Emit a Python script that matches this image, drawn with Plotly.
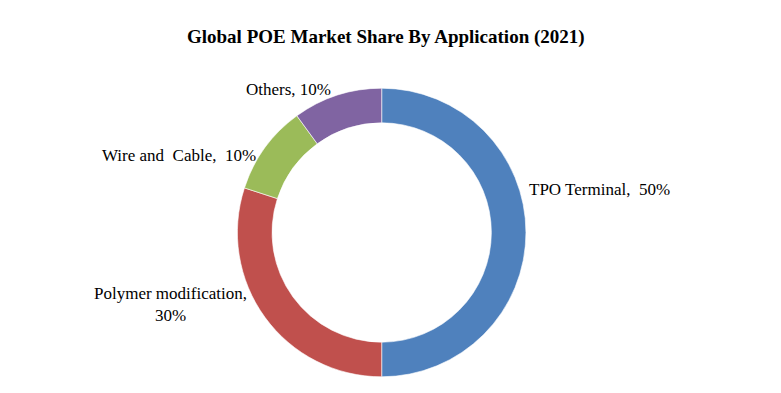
import plotly.graph_objects as go

# page has an 8px body margin; figure fills the rest of the window
OFF = 8
W, H = 781 - OFF, 393 - OFF

# Data
categories = ["TPO Terminal", "Polymer modification", "Wire and Cable", "Others"]
shares = [50, 30, 10, 10]
label_texts = ["TPO Terminal,  50%", "Polymer modification,<br>30%",
               "Wire and  Cable,  10%", "Others, 10%"]
colors = ["#4F81BD", "#C0504D", "#9BBB59", "#8064A2"]
title = "Global POE Market Share By Application (2021)"

# label centres in page pixels (x, y from top)
label_px = [(599, 190), (170, 304), (179, 155), (288, 90)]

# Pie geometry in page pixels
cx, cy, r = 381.7 - OFF, 232.5 - OFF, 144.3

def px2paper(px, py):
    return (px - OFF) / W, 1 - (py - OFF) / H

fig = go.Figure(go.Pie(
    labels=categories,
    values=shares,
    hole=0.76,
    sort=False,
    direction="clockwise",
    rotation=0,
    marker=dict(colors=colors, line=dict(color="#FFFFFF", width=0.6)),
    textinfo="none",
    hoverinfo="label+percent",
    showlegend=False,
    domain=dict(x=[(cx - r) / W, (cx + r) / W],
                y=[(H - cy - r) / H, (H - cy + r) / H]),
))

annotations = []
for txt, (px, py) in zip(label_texts, label_px):
    ax, ay = px2paper(px, py)
    annotations.append(dict(
        x=ax, y=ay, xref="paper", yref="paper",
        text=txt, showarrow=False, xanchor="center", yanchor="middle",
        align="center",
        font=dict(family="Liberation Serif, Times New Roman, serif", size=17, color="#000000"),
    ))
tx, ty = px2paper(386, 37)
annotations.append(dict(
    x=tx, y=ty, xref="paper", yref="paper",
    text="<b>" + title + "</b>", showarrow=False, xanchor="center", yanchor="middle",
    font=dict(family="Liberation Serif, Times New Roman, serif", size=19, color="#000000"),
))

fig.update_layout(
    width=W, height=H,
    margin=dict(l=0, r=0, t=0, b=0),
    paper_bgcolor="#FFFFFF",
    plot_bgcolor="#FFFFFF",
    annotations=annotations,
)

fig.write_html("out.html")
